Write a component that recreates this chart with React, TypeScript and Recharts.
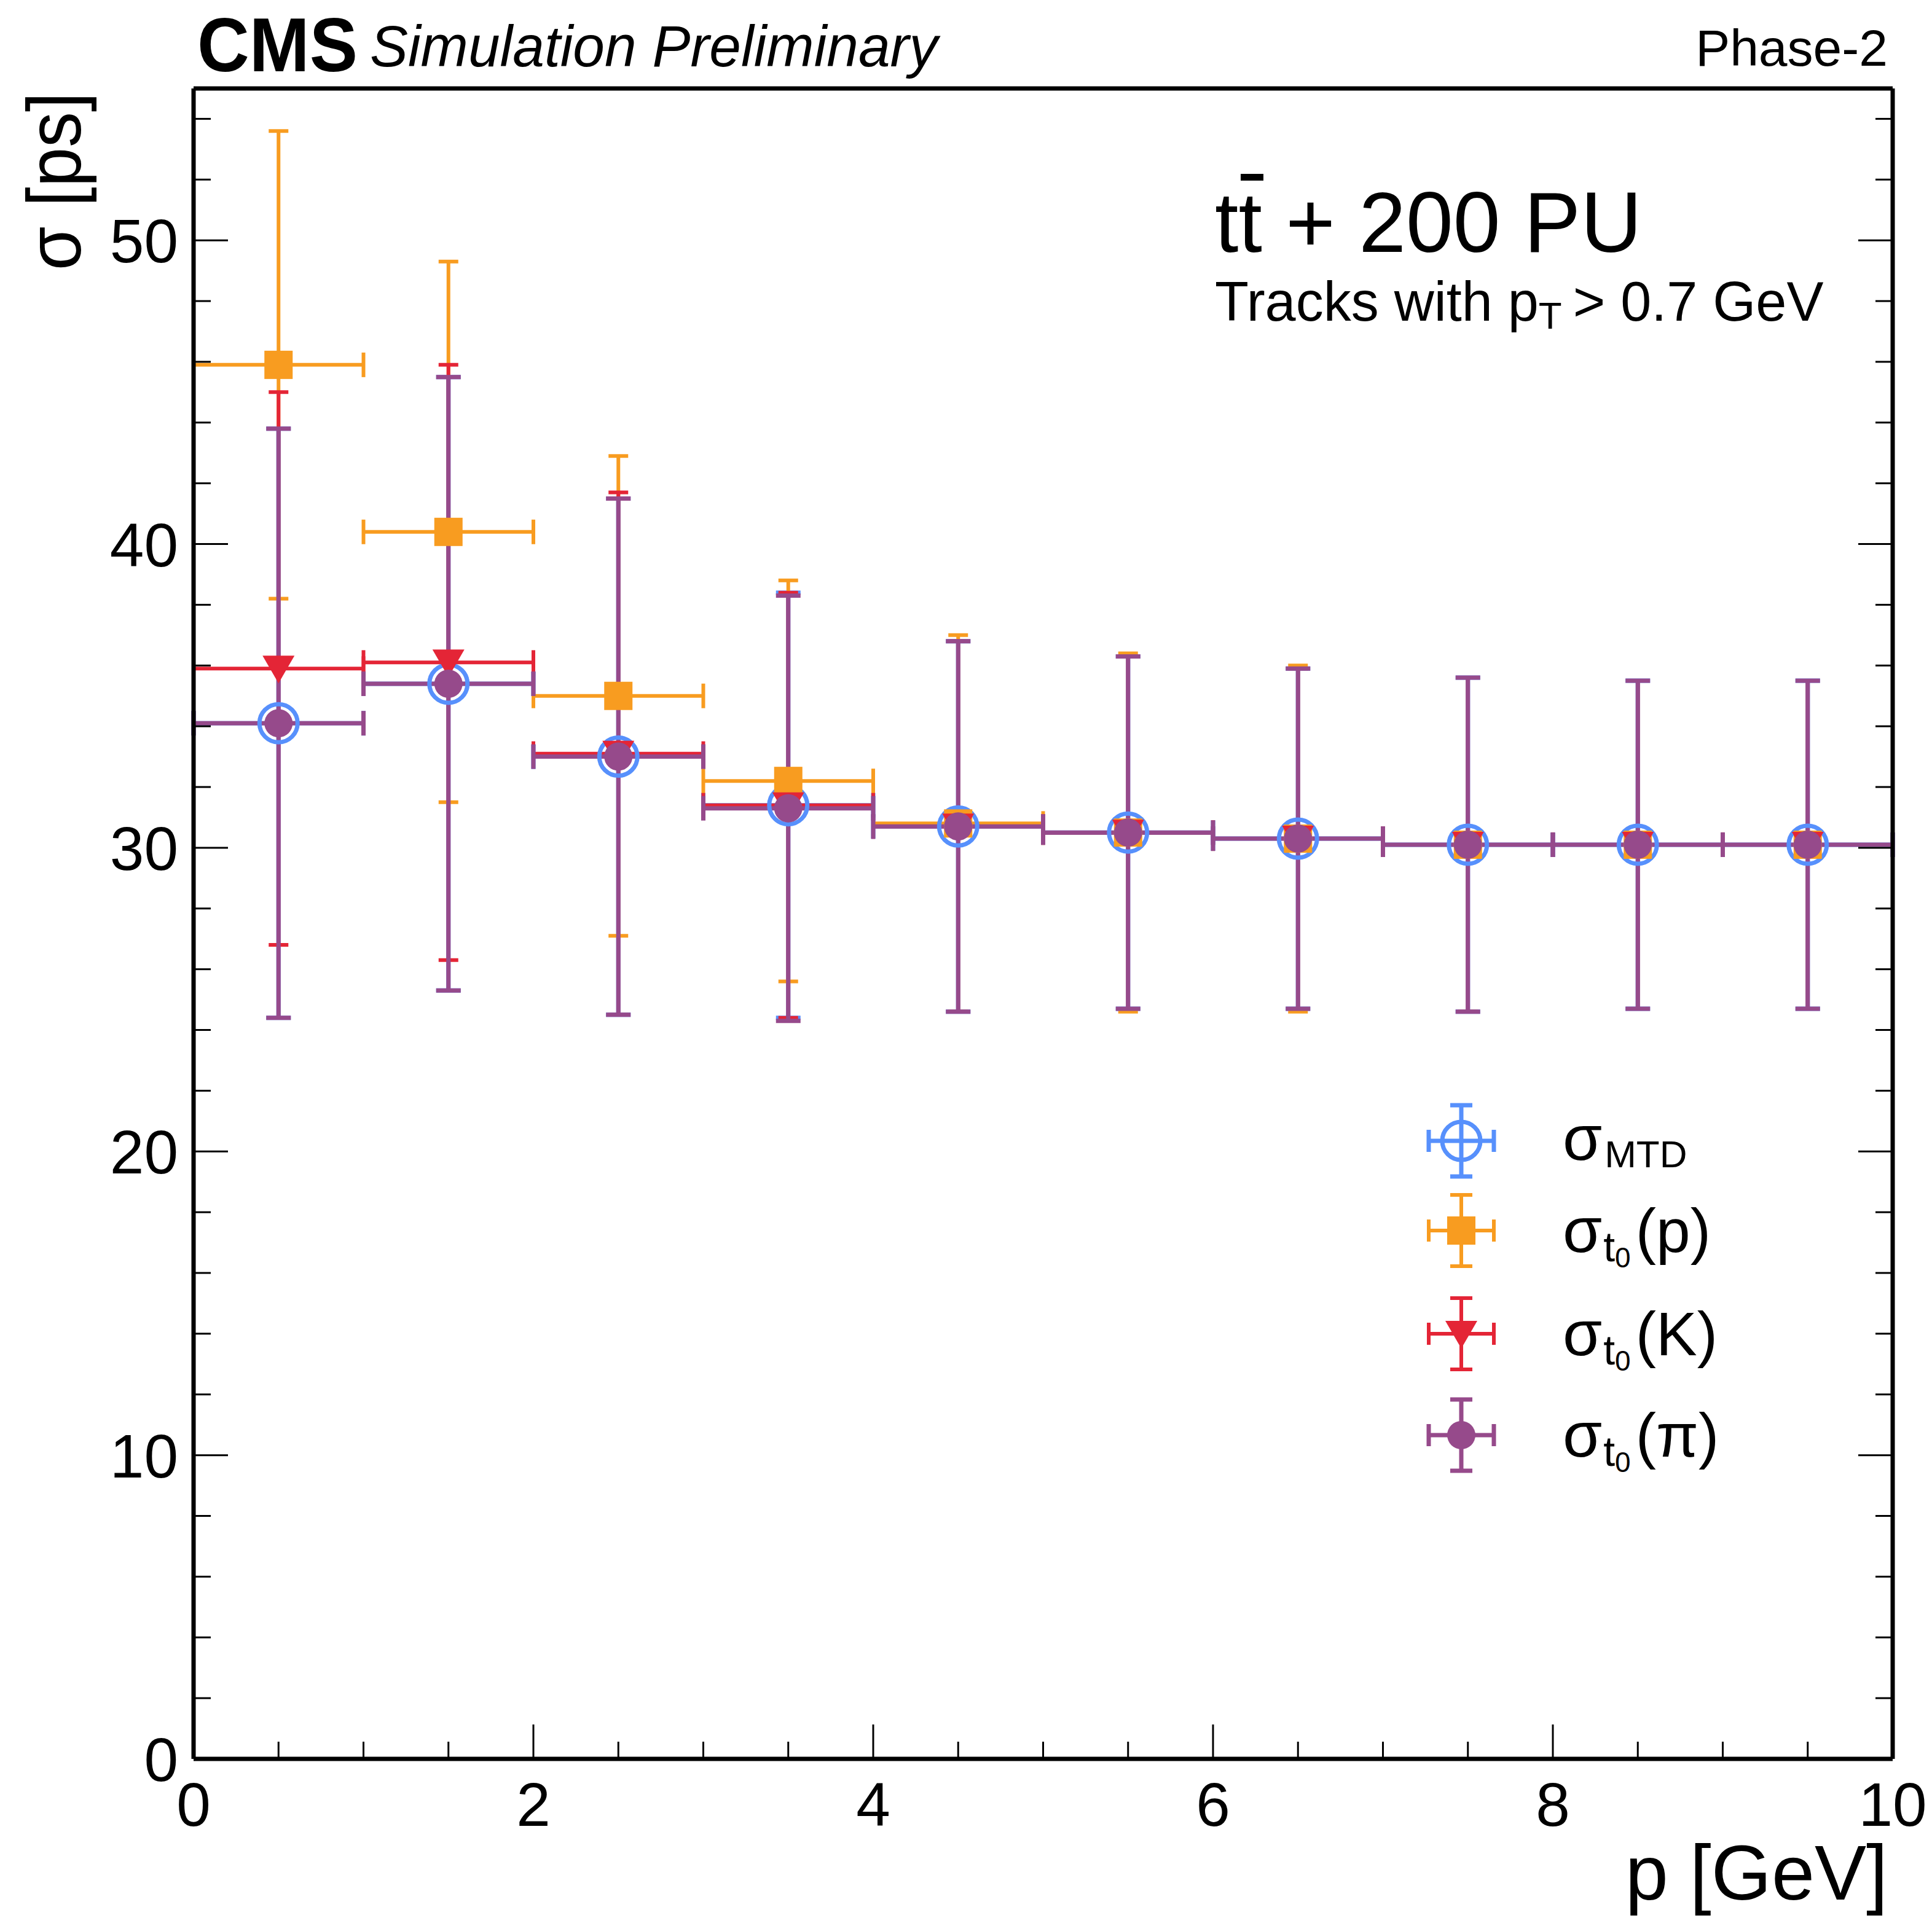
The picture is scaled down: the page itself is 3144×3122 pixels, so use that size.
import React from "react"
import {
  ScatterChart,
  Scatter,
  XAxis,
  YAxis,
  ErrorBar,
  Legend,
} from "recharts"

// bin edges in p [GeV]
const binEdges = [0, 1, 2, 3, 4, 5, 6, 7, 8, 9, 10]

// sigma values [ps] per bin
const mtdSigma = [34.1, 35.4, 33.0, 31.4, 30.7, 30.5, 30.3, 30.1, 30.1, 30.1]
const mtdErr = [9.7, 10.1, 8.5, 7.0, 6.1, 5.8, 5.6, 5.5, 5.4, 5.4]
const protonSigma = [45.9, 40.4, 35.0, 32.2, 30.8, 30.5, 30.3, 30.1, 30.1, 30.1]
const protonErr = [7.7, 8.9, 7.9, 6.6, 6.2, 5.9, 5.7, 5.5, 5.4, 5.4]
const kaonSigma = [35.9, 36.1, 33.1, 31.4, 30.7, 30.5, 30.3, 30.1, 30.1, 30.1]
const kaonErr = [9.1, 9.8, 8.6, 7.0, 6.1, 5.8, 5.6, 5.5, 5.4, 5.4]
const pionSigma = [34.1, 35.4, 33.0, 31.3, 30.7, 30.5, 30.3, 30.1, 30.1, 30.1]
const pionErr = [9.7, 10.1, 8.5, 7.0, 6.1, 5.8, 5.6, 5.5, 5.4, 5.4]

const xTicks = [0, 0.5, 1, 1.5, 2, 2.5, 3, 3.5, 4, 4.5, 5, 5.5, 6, 6.5, 7, 7.5, 8, 8.5, 9, 9.5, 10]
const yTicks = [0, 2, 4, 6, 8, 10, 12, 14, 16, 18, 20, 22, 24, 26, 28, 30, 32, 34, 36, 38, 40, 42, 44, 46, 48, 50, 52, 54]

const legendLabels = ["MTD", "p", "K", "π"]

const BLUE = "#5790fc"
const ORANGE = "#f89c20"
const RED = "#e42536"
const PURPLE = "#964a8b"
const FONT = "'Liberation Sans', Arial, Helvetica, sans-serif"

const toPoints = (vals: number[], errs: number[]) =>
  vals.map((v, i) => ({
    x: (binEdges[i] + binEdges[i + 1]) / 2,
    y: v,
    ex: (binEdges[i + 1] - binEdges[i]) / 2,
    ey: errs[i],
  }))

const mtdData = toPoints(mtdSigma, mtdErr)
const protonData = toPoints(protonSigma, protonErr)
const kaonData = toPoints(kaonSigma, kaonErr)
const pionData = toPoints(pionSigma, pionErr)

type Kind = "mtd" | "p" | "k" | "pi"

const marker = (kind: Kind, cx: number, cy: number) => {
  if (kind === "mtd")
    return <circle cx={cx} cy={cy} r={31} fill="none" stroke={BLUE} strokeWidth={7} />
  if (kind === "p")
    return <rect x={cx - 23} y={cy - 23} width={46} height={46} fill={ORANGE} />
  if (kind === "k")
    return (
      <polygon
        points={`${cx - 26},${cy - 21} ${cx + 26},${cy - 21} ${cx},${cy + 24}`}
        fill={RED}
      />
    )
  return <circle cx={cx} cy={cy} r={23} fill={PURPLE} />
}

const shapeFor = (kind: Kind) => (props: any) => marker(kind, props.cx, props.cy)

const XTick = (side: "bottom" | "top") => (props: any) => {
  const { x, y, payload } = props
  const v = payload.value
  const major = v % 2 === 0
  const len = major ? 56 : 28
  const dir = side === "bottom" ? -1 : 1
  return (
    <g>
      <line x1={x} y1={y} x2={x} y2={y + dir * len} stroke="#000" strokeWidth={3} />
      {side === "bottom" && major && (
        <text x={x} y={y + 109} textAnchor="middle" fontSize={100} fontFamily={FONT} fill="#000">
          {v}
        </text>
      )}
    </g>
  )
}

const YTick = (side: "left" | "right") => (props: any) => {
  const { x, y, payload } = props
  const v = payload.value
  const major = v % 10 === 0
  const len = major ? 56 : 28
  const dir = side === "left" ? 1 : -1
  return (
    <g>
      <line x1={x} y1={y} x2={x + dir * len} y2={y} stroke="#000" strokeWidth={3} />
      {side === "left" && major && (
        <text x={x - 25} y={y + 36} textAnchor="end" fontSize={100} fontFamily={FONT} fill="#000">
          {v}
        </text>
      )}
    </g>
  )
}

const legendKinds: Kind[] = ["mtd", "p", "k", "pi"]
const legendColors = [BLUE, ORANGE, RED, PURPLE]
const legendMarkerY = [97, 243, 411, 576]
const legendBaseY = [128, 278, 446, 611]

const renderLegend = () => (
  <svg width={640} height={700} style={{ overflow: "visible" }}>
    {legendKinds.map((kind, i) => {
      const cx = 98
      const cy = legendMarkerY[i]
      const c = legendColors[i]
      const sw = kind === "pi" || kind === "mtd" ? 7 : 6
      return (
        <g key={kind}>
          <line x1={cx - 53} y1={cy} x2={cx + 53} y2={cy} stroke={c} strokeWidth={sw} />
          <line x1={cx} y1={cy - 58} x2={cx} y2={cy + 58} stroke={c} strokeWidth={sw} />
          <line x1={cx - 53} y1={cy - 18} x2={cx - 53} y2={cy + 18} stroke={c} strokeWidth={sw} />
          <line x1={cx + 53} y1={cy - 18} x2={cx + 53} y2={cy + 18} stroke={c} strokeWidth={sw} />
          <line x1={cx - 18} y1={cy - 58} x2={cx + 18} y2={cy - 58} stroke={c} strokeWidth={sw} />
          <line x1={cx - 18} y1={cy + 58} x2={cx + 18} y2={cy + 58} stroke={c} strokeWidth={sw} />
          {marker(kind, cx, cy)}
          {kind === "mtd" ? (
            <text x={263} y={legendBaseY[i]} fontSize={104} fontFamily={FONT} fill="#000">
              σ
              <tspan fontSize={62} dy={12} dx={4}>
                {legendLabels[i]}
              </tspan>
            </text>
          ) : (
            <text x={263} y={legendBaseY[i]} fontSize={104} fontFamily={FONT} fill="#000">
              σ
              <tspan fontSize={68} dy={15} dx={2}>t</tspan>
              <tspan fontSize={46} dy={10}>0</tspan>
              <tspan fontSize={100} dy={-25} dx={8}>
                ({legendLabels[i]})
              </tspan>
            </text>
          )}
        </g>
      )
    })}
  </svg>
)

export default function App() {
  return (
    <div style={{ position: "absolute", left: 0, top: 0, background: "#fff" }}>
      <ScatterChart
        width={3144}
        height={3122}
        margin={{ left: 115, right: 44, top: 124, bottom: 109 }}
      >
        <XAxis
          type="number"
          dataKey="x"
          domain={[0, 10]}
          ticks={xTicks}
          interval={0}
          height={150}
          tickSize={0}
          tickMargin={0}
          tickLine={false}
          axisLine={{ stroke: "#000", strokeWidth: 7 }}
          tick={XTick("bottom")}
          allowDataOverflow
        />
        <XAxis
          xAxisId="top"
          orientation="top"
          type="number"
          domain={[0, 10]}
          ticks={xTicks}
          interval={0}
          height={20}
          tickSize={0}
          tickMargin={0}
          tickLine={false}
          axisLine={{ stroke: "#000", strokeWidth: 7 }}
          tick={XTick("top")}
          allowDataOverflow
        />
        <YAxis
          type="number"
          dataKey="y"
          domain={[0, 55]}
          ticks={yTicks}
          interval={0}
          width={200}
          tickSize={0}
          tickMargin={0}
          tickLine={false}
          axisLine={{ stroke: "#000", strokeWidth: 7 }}
          tick={YTick("left")}
          allowDataOverflow
        />
        <YAxis
          yAxisId="right"
          orientation="right"
          type="number"
          domain={[0, 55]}
          ticks={yTicks}
          interval={0}
          width={20}
          tickSize={0}
          tickMargin={0}
          tickLine={false}
          axisLine={{ stroke: "#000", strokeWidth: 7 }}
          tick={YTick("right")}
          allowDataOverflow
        />

        <Scatter data={mtdData} shape={shapeFor("mtd")} isAnimationActive={false}>
          <ErrorBar dataKey="ey" direction="y" width={20} stroke={BLUE} strokeWidth={7} />
          <ErrorBar dataKey="ex" direction="x" width={20} stroke={BLUE} strokeWidth={7} />
        </Scatter>
        <Scatter data={protonData} shape={shapeFor("p")} isAnimationActive={false}>
          <ErrorBar dataKey="ey" direction="y" width={16} stroke={ORANGE} strokeWidth={6} />
          <ErrorBar dataKey="ex" direction="x" width={20} stroke={ORANGE} strokeWidth={6} />
        </Scatter>
        <Scatter data={kaonData} shape={shapeFor("k")} isAnimationActive={false}>
          <ErrorBar dataKey="ey" direction="y" width={16} stroke={RED} strokeWidth={6} />
          <ErrorBar dataKey="ex" direction="x" width={20} stroke={RED} strokeWidth={6} />
        </Scatter>
        <Scatter data={pionData} shape={shapeFor("pi")} isAnimationActive={false}>
          <ErrorBar dataKey="ey" direction="y" width={20} stroke={PURPLE} strokeWidth={7} />
          <ErrorBar dataKey="ex" direction="x" width={20} stroke={PURPLE} strokeWidth={7} />
        </Scatter>

        <Legend
          content={renderLegend}
          layout="vertical"
          align="center"
          verticalAlign="middle"
          wrapperStyle={{ left: 2280, top: 1760, width: 640, height: 700 }}
        />

        <text x={321} y={116} fontSize={124} fontWeight="bold" fontFamily={FONT} textLength={261} lengthAdjust="spacingAndGlyphs">
          CMS
        </text>
        <text x={602} y={108} fontSize={95} fontStyle="italic" fontFamily={FONT} textLength={924} lengthAdjust="spacingAndGlyphs">
          Simulation Preliminary
        </text>
        <text x={3072} y={107} fontSize={84} textAnchor="end" fontFamily={FONT}>
          Phase-2
        </text>
        <text x={1977} y={410} fontSize={140} fontFamily={FONT} textLength={695} lengthAdjust="spacingAndGlyphs">
          tt + 200 PU
        </text>
        <rect x={2019} y={283} width={37} height={11} fill="#000" />
        <text x={1977} y={522} fontSize={90} fontFamily={FONT}>
          Tracks with p
          <tspan fontSize={62} dy={13}>T</tspan>
          <tspan dy={-13} dx={18}>{"> 0.7 GeV"}</tspan>
        </text>
        <text
          transform="translate(131,150) rotate(-90)"
          textAnchor="end"
          fontSize={125}
          fontFamily={FONT}
          textLength={290}
          lengthAdjust="spacingAndGlyphs"
        >
          σ [ps]
        </text>
        <text x={3072} y={3092} fontSize={126} textAnchor="end" fontFamily={FONT}>
          p [GeV]
        </text>
      </ScatterChart>
    </div>
  )
}
